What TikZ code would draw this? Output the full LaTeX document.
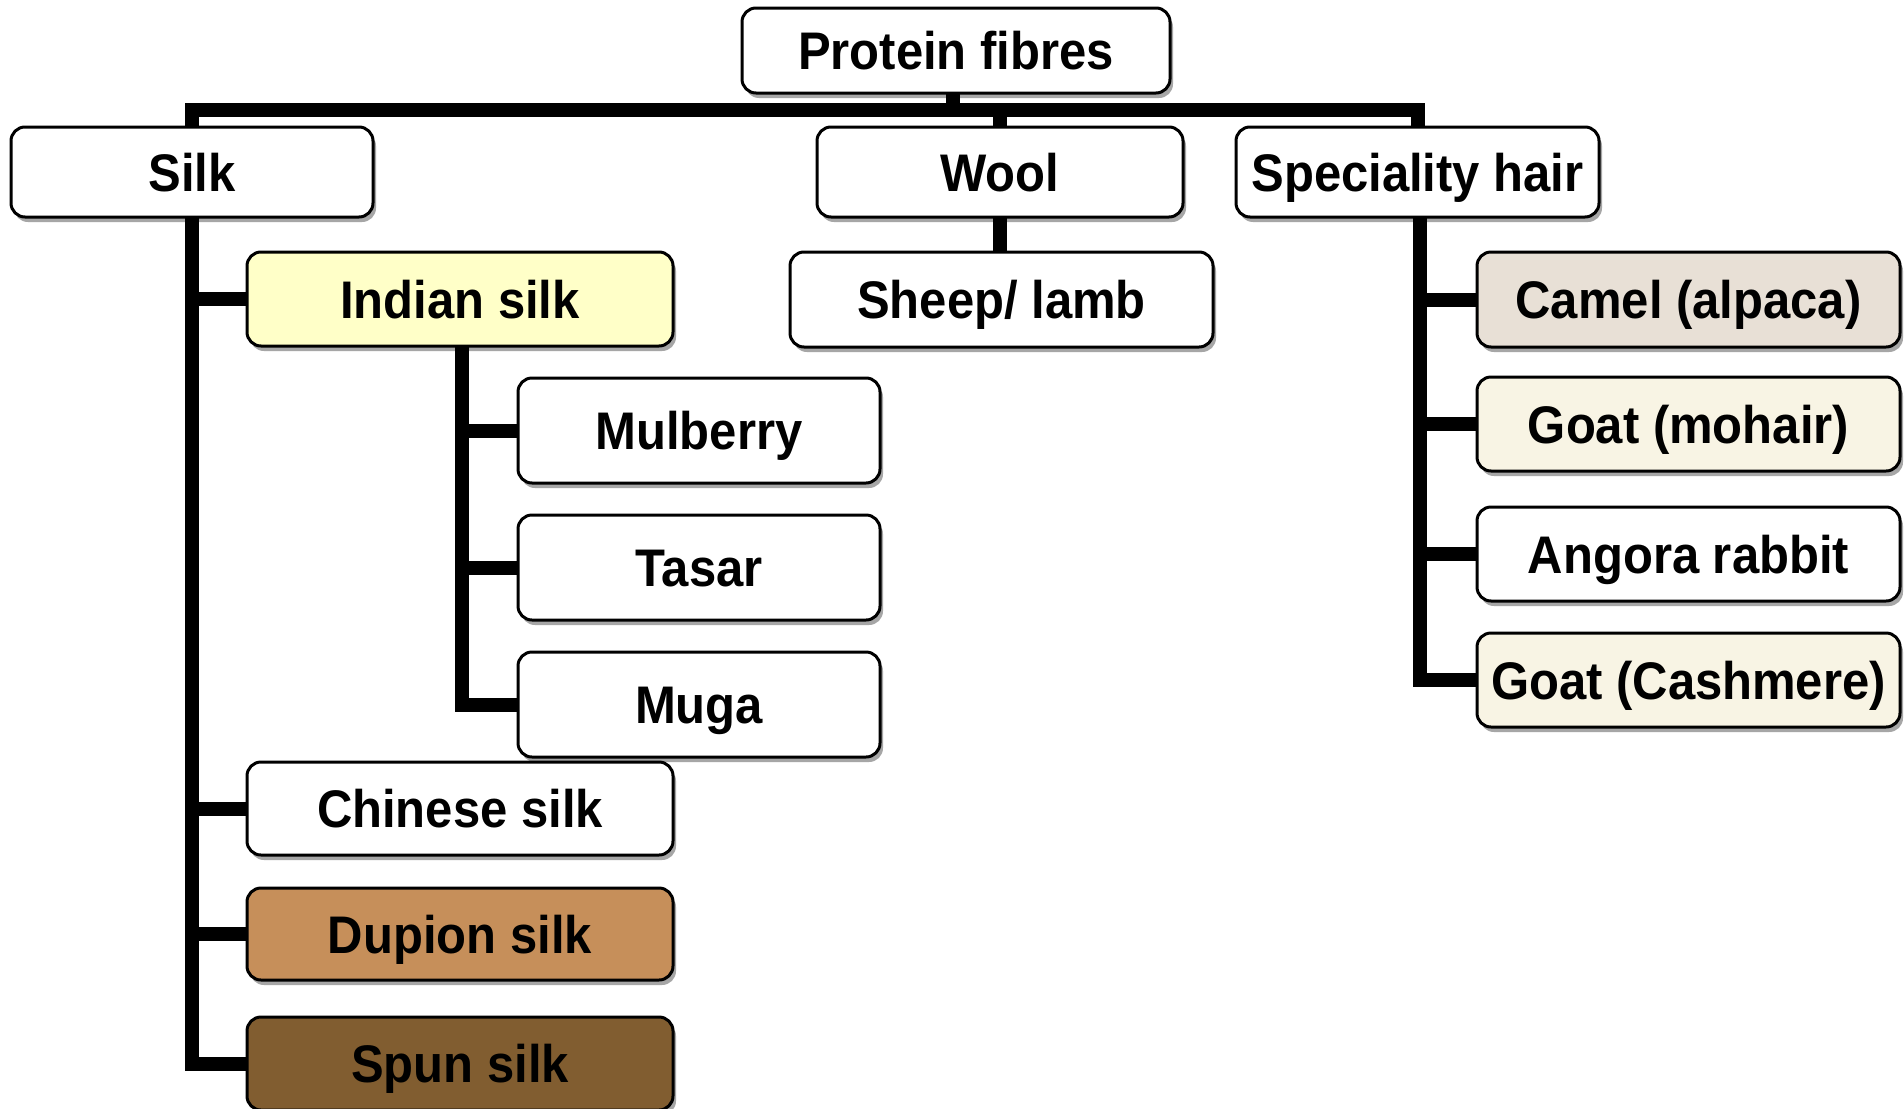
\documentclass[tikz,border=0pt]{standalone}
\usepackage{fontspec}
\setmainfont{Liberation Sans}
\usepackage{graphicx}
\usetikzlibrary{shadows}
\definecolor{indianfill}{RGB}{255,255,200}
\definecolor{camelfill}{RGB}{232,224,214}
\definecolor{goatfill}{RGB}{248,244,228}
\definecolor{dupionfill}{RGB}{198,143,90}
\definecolor{spunfill}{RGB}{129,93,48}
\newcommand\lbl[1]{\scalebox{1}[1.08]{#1}}
\begin{document}
\begin{tikzpicture}[x=0.5pt,y=-0.5pt,
  box/.style={draw=black, line width=1.5pt, rounded corners=7pt, fill=white,
    inner sep=0pt, outer sep=0pt, text height=19pt, text depth=0pt,
    font=\fontsize{24.5pt}{28pt}\selectfont\bfseries,
    drop shadow={shadow xshift=1.5pt, shadow yshift=-2.5pt, fill=black!35, opacity=1}},
  conn/.style={line width=7pt, black, line join=miter}]
\useasboundingbox[fill=white] (0,0) rectangle (1904,1108);

% level 0
\node[box, minimum width=214pt, minimum height=42.5pt] (protein) at (956,50.5) {\lbl{Protein fibres}};
% level 1
\node[box, minimum width=181pt, minimum height=45pt] (silk) at (192,172) {\lbl{Silk}};
\node[box, minimum width=183pt, minimum height=45pt] (wool) at (1000,172) {\lbl{Wool}};
\node[box, minimum width=181.5pt, minimum height=45pt] (spec) at (1417.5,172) {\lbl{Speciality hair}};
% silk branch
\node[box, fill=indianfill, minimum width=213pt, minimum height=47pt] (indian) at (460,299) {\lbl{Indian silk}};
\node[box, minimum width=181pt, minimum height=52.5pt] (mulberry) at (699,430.5) {\lbl{Mulberry}};
\node[box, minimum width=181pt, minimum height=52.5pt] (tasar) at (699,567.5) {\lbl{Tasar}};
\node[box, minimum width=181pt, minimum height=52.5pt] (muga) at (699,704.5) {\lbl{Muga}};
\node[box, minimum width=213pt, minimum height=46.5pt] (chinese) at (460,808.5) {\lbl{Chinese silk}};
\node[box, fill=dupionfill, minimum width=213pt, minimum height=46pt] (dupion) at (460,934) {\lbl{Dupion silk}};
\node[box, fill=spunfill, minimum width=213pt, minimum height=46.5pt] (spun) at (460,1063.5) {\lbl{Spun silk}};
% wool branch
\node[box, minimum width=211.5pt, minimum height=47.5pt] (sheep) at (1001.5,299.5) {\lbl{Sheep/ lamb}};
% speciality hair branch
\node[box, fill=camelfill, minimum width=211.5pt, minimum height=47.5pt] (camel) at (1688.5,299.5) {\lbl{Camel (alpaca)}};
\node[box, fill=goatfill, minimum width=211.5pt, minimum height=47pt] (mohair) at (1688.5,424) {\lbl{Goat (mohair)}};
\node[box, minimum width=211.5pt, minimum height=47pt] (angora) at (1688.5,554) {\lbl{Angora rabbit}};
\node[box, fill=goatfill, minimum width=211.5pt, minimum height=47pt] (cashmere) at (1688.5,680) {\lbl{Goat (Cashmere)}};

% connectors
\coordinate (bus) at (953,110);
\draw[conn] (protein.south -| bus) -- (bus);
\draw[conn] (silk.north) |- (bus) -| (spec.north);
\draw[conn] (bus -| wool.north) -- (wool.north);

\draw[conn] (silk.south) |- (spun.west);
\draw[conn] (silk.south |- indian.west) -- (indian.west);
\draw[conn] (silk.south |- chinese.west) -- (chinese.west);
\draw[conn] (silk.south |- dupion.west) -- (dupion.west);

\draw[conn] ([xshift=1pt]indian.south) |- (muga.west);
\draw[conn] ([xshift=1pt]indian.south |- mulberry.west) -- (mulberry.west);
\draw[conn] ([xshift=1pt]indian.south |- tasar.west) -- (tasar.west);

\draw[conn] (wool.south) -- (wool.south |- sheep.north);

\draw[conn] ([xshift=1pt]spec.south) |- (cashmere.west);
\draw[conn] ([xshift=1pt]spec.south |- camel.west) -- (camel.west);
\draw[conn] ([xshift=1pt]spec.south |- mohair.west) -- (mohair.west);
\draw[conn] ([xshift=1pt]spec.south |- angora.west) -- (angora.west);
\end{tikzpicture}
\end{document}
